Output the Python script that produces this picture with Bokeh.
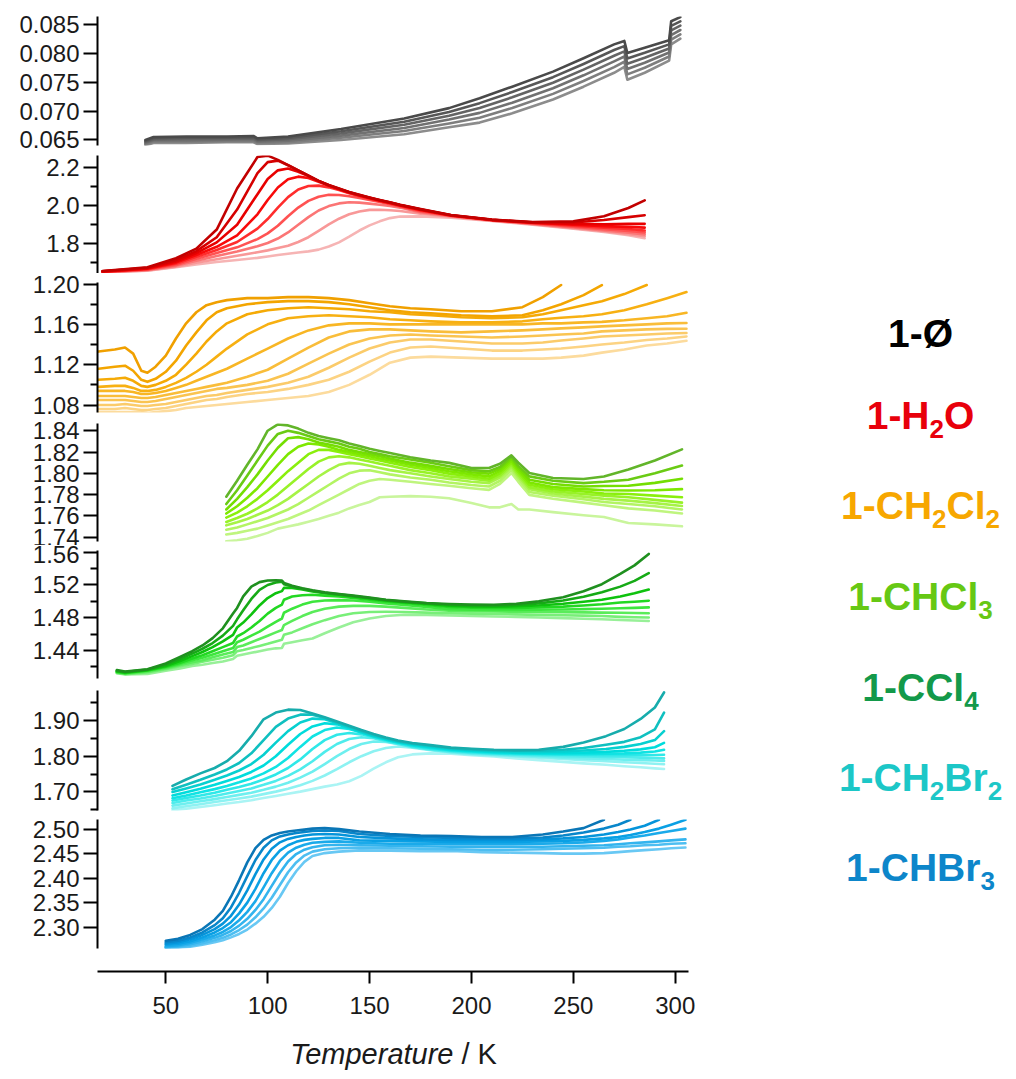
from bokeh.plotting import figure
from bokeh.layouts import column, row
from bokeh.models import Range1d, FixedTicker, PrintfTickFormatter
from bokeh.embed import file_html
from bokeh.resources import INLINE
from bokeh.core.properties import value

# ---------------- data ----------------
# 1-Ø (grey)
grey_T = [40, 44, 60, 80, 93, 95, 110, 136, 167, 189, 204, 220, 240, 255, 270, 275, 276.5, 285, 297, 298, 302.5]
grey_vals = [
    [.0650, .0655, .0656, .0656, .0657, .0653, .0656, .0669, .0687, .0705, .0722, .0742, .0768, .0791, .0815, .0821, .0800, .0809, .0822, .0855, .0862],
    [.06482, .0653, .06538, .0654, .06548, .0651, .06536, .06652, .06816, .06984, .07136, .07328, .07584, .07812, .08052, .0812, .07908, .08004, .0815, .0847, .08546],
    [.06464, .0651, .06516, .0652, .06526, .0649, .06512, .06614, .06762, .06918, .07052, .07236, .07488, .07714, .07954, .0803, .07816, .07918, .0808, .0839, .08472],
    [.06446, .0649, .06494, .0650, .06504, .0647, .06488, .06576, .06708, .06852, .06968, .07144, .07392, .07616, .07856, .0794, .07724, .07832, .0801, .0831, .08398],
    [.06428, .0647, .06472, .0648, .06482, .0645, .06464, .06538, .06654, .06786, .06884, .07052, .07296, .07518, .07758, .0785, .07632, .07746, .0794, .0823, .08324],
    [.0641, .0645, .0645, .0646, .0646, .0643, .0644, .0650, .0660, .0672, .0680, .0696, .0720, .0742, .0766, .0776, .0754, .0766, .0787, .0815, .0825],
]
grey_ticks = [0.065, 0.070, 0.075, 0.080, 0.085]

# 1-H2O (red)
red_T = [19, 41, 55, 65, 75, 85, 95, 100, 105, 110, 115, 120, 125, 130, 135, 140, 145, 150, 155, 160, 165, 175, 190, 210, 230, 250, 265, 277, 285]
red_vals = [
    [1.658, 1.678, 1.725, 1.775, 1.875, 2.09, 2.255, 2.262, 2.240, 2.212, 2.185, 2.157, 2.130, 2.108, 2.09, 2.072, 2.057, 2.043, 2.030, 2.018, 2.005, 1.982, 1.951, 1.927, 1.914, 1.918, 1.945, 1.988, 2.028],
    [1.657, 1.675, 1.715, 1.762, 1.835, 1.98, 2.17, 2.228, 2.236, 2.212, 2.185, 2.157, 2.13, 2.107, 2.089, 2.071, 2.056, 2.042, 2.029, 2.017, 2.004, 1.981, 1.950, 1.926, 1.913, 1.912, 1.925, 1.94, 1.95],
    [1.656, 1.672, 1.708, 1.752, 1.808, 1.90, 2.06, 2.14, 2.185, 2.195, 2.178, 2.155, 2.129, 2.106, 2.088, 2.070, 2.055, 2.041, 2.028, 2.016, 2.003, 1.98, 1.95, 1.926, 1.912, 1.905, 1.903, 1.905, 1.905],
    [1.655, 1.670, 1.702, 1.742, 1.785, 1.845, 1.955, 2.03, 2.095, 2.138, 2.152, 2.145, 2.125, 2.104, 2.086, 2.068, 2.053, 2.039, 2.026, 2.014, 2.001, 1.978, 1.949, 1.925, 1.911, 1.900, 1.893, 1.889, 1.885],
    [1.654, 1.667, 1.696, 1.732, 1.768, 1.81, 1.88, 1.93, 1.99, 2.045, 2.085, 2.103, 2.105, 2.096, 2.082, 2.065, 2.050, 2.036, 2.023, 2.011, 1.999, 1.975, 1.948, 1.925, 1.909, 1.895, 1.885, 1.878, 1.870],
    [1.653, 1.665, 1.690, 1.722, 1.752, 1.782, 1.825, 1.855, 1.895, 1.945, 1.99, 2.025, 2.047, 2.057, 2.056, 2.049, 2.040, 2.030, 2.019, 2.008, 1.996, 1.970, 1.947, 1.924, 1.907, 1.890, 1.877, 1.868, 1.860],
    [1.652, 1.663, 1.685, 1.712, 1.737, 1.76, 1.788, 1.805, 1.828, 1.86, 1.90, 1.94, 1.975, 1.998, 2.012, 2.018, 2.016, 2.011, 2.005, 1.998, 1.99, 1.965, 1.945, 1.923, 1.905, 1.886, 1.871, 1.858, 1.850],
    [1.651, 1.661, 1.681, 1.702, 1.72, 1.738, 1.756, 1.766, 1.778, 1.79, 1.81, 1.835, 1.868, 1.902, 1.932, 1.955, 1.970, 1.978, 1.979, 1.976, 1.972, 1.958, 1.942, 1.922, 1.903, 1.882, 1.866, 1.851, 1.840],
    [1.651, 1.660, 1.678, 1.692, 1.705, 1.716, 1.727, 1.734, 1.742, 1.748, 1.755, 1.761, 1.770, 1.786, 1.808, 1.838, 1.870, 1.897, 1.918, 1.935, 1.943, 1.944, 1.937, 1.920, 1.900, 1.879, 1.862, 1.845, 1.830],
]
red_ticks = [1.8, 2.0, 2.2]
red_minor = [1.7, 1.9, 2.1]

# 1-CH2Cl2 (orange)
orange_T = [17, 25, 30, 34, 38, 41, 45, 50, 55, 60, 65, 70, 75, 80, 90, 100, 110, 120, 130, 140, 150, 160, 170, 180, 195, 210, 225, 235, 244, 255, 264, 275, 286, 296, 305.5]
orange_vals = [
    [1.133, 1.135, 1.137, 1.131, 1.114, 1.112, 1.118, 1.129, 1.146, 1.161, 1.172, 1.179, 1.182, 1.184, 1.186, 1.186, 1.187, 1.187, 1.186, 1.184, 1.181, 1.178, 1.176, 1.175, 1.173, 1.173, 1.177, 1.187, 1.199],
    [1.116, 1.118, 1.119, 1.114, 1.105, 1.103, 1.106, 1.113, 1.124, 1.139, 1.152, 1.164, 1.172, 1.176, 1.180, 1.182, 1.183, 1.183, 1.182, 1.180, 1.177, 1.174, 1.172, 1.171, 1.169, 1.168, 1.169, 1.174, 1.180, 1.189, 1.199],
    [1.105, 1.106, 1.107, 1.104, 1.099, 1.098, 1.100, 1.104, 1.110, 1.120, 1.131, 1.143, 1.153, 1.161, 1.170, 1.174, 1.176, 1.177, 1.176, 1.175, 1.173, 1.172, 1.170, 1.169, 1.167, 1.166, 1.167, 1.170, 1.174, 1.179, 1.183, 1.190, 1.199],
    [1.098, 1.099, 1.099, 1.097, 1.094, 1.094, 1.095, 1.098, 1.102, 1.107, 1.113, 1.120, 1.128, 1.136, 1.150, 1.160, 1.166, 1.168, 1.169, 1.168, 1.167, 1.165, 1.164, 1.163, 1.162, 1.162, 1.163, 1.165, 1.1665, 1.168, 1.170, 1.174, 1.180, 1.186, 1.192],
    [1.094, 1.094, 1.094, 1.093, 1.091, 1.091, 1.092, 1.094, 1.097, 1.100, 1.104, 1.108, 1.112, 1.116, 1.126, 1.136, 1.146, 1.154, 1.159, 1.161, 1.161, 1.160, 1.160, 1.160, 1.160, 1.160, 1.160, 1.161, 1.161, 1.162, 1.1625, 1.164, 1.166, 1.168, 1.1715],
    [1.089, 1.089, 1.089, 1.088, 1.087, 1.087, 1.088, 1.090, 1.092, 1.094, 1.096, 1.098, 1.100, 1.102, 1.108, 1.115, 1.126, 1.137, 1.147, 1.153, 1.155, 1.155, 1.154, 1.153, 1.152, 1.153, 1.154, 1.155, 1.156, 1.157, 1.158, 1.159, 1.160, 1.161, 1.1614],
    [1.085, 1.085, 1.085, 1.084, 1.083, 1.083, 1.084, 1.086, 1.088, 1.090, 1.092, 1.094, 1.096, 1.097, 1.100, 1.104, 1.111, 1.121, 1.131, 1.140, 1.146, 1.149, 1.150, 1.149, 1.148, 1.147, 1.148, 1.149, 1.150, 1.151, 1.153, 1.154, 1.155, 1.1555, 1.1557],
    [1.080, 1.080, 1.081, 1.080, 1.079, 1.079, 1.080, 1.081, 1.083, 1.085, 1.087, 1.089, 1.090, 1.092, 1.095, 1.098, 1.102, 1.108, 1.117, 1.127, 1.136, 1.142, 1.145, 1.145, 1.143, 1.141, 1.141, 1.142, 1.144, 1.146, 1.148, 1.149, 1.150, 1.151, 1.1514],
    [1.076, 1.076, 1.077, 1.076, 1.075, 1.075, 1.076, 1.077, 1.079, 1.081, 1.083, 1.085, 1.086, 1.088, 1.091, 1.093, 1.096, 1.100, 1.105, 1.113, 1.123, 1.132, 1.137, 1.138, 1.136, 1.134, 1.134, 1.135, 1.136, 1.138, 1.140, 1.142, 1.1445, 1.146, 1.148],
    [1.073, 1.073, 1.073, 1.073, 1.073, 1.072, 1.073, 1.074, 1.075, 1.077, 1.078, 1.079, 1.080, 1.081, 1.083, 1.085, 1.087, 1.089, 1.093, 1.100, 1.110, 1.122, 1.127, 1.128, 1.127, 1.126, 1.126, 1.126, 1.127, 1.129, 1.132, 1.135, 1.139, 1.141, 1.1437],
]
orange_ticks = [1.08, 1.12, 1.16, 1.20]
orange_minor = [1.10, 1.14, 1.18]

# 1-CHCl3 (light green)
lime_T = [79.7, 85, 90, 95, 100, 105, 110, 115, 120, 125, 130, 135, 140, 145, 150, 155, 160, 170, 180, 189, 200, 208.6, 214, 219.6, 223, 228.4, 240, 255, 265, 277, 290, 303.3]
lime_vals = [
    [1.778, 1.793, 1.808, 1.8225, 1.840, 1.846, 1.845, 1.842, 1.838, 1.835, 1.833, 1.831, 1.828, 1.8257, 1.823, 1.821, 1.819, 1.815, 1.812, 1.8098, 1.805, 1.805, 1.809, 1.8168, 1.810, 1.8003, 1.7956, 1.7946, 1.797, 1.8035, 1.812, 1.8225],
    [1.7711, 1.784, 1.798, 1.812, 1.826, 1.837, 1.840, 1.838, 1.835, 1.832, 1.830, 1.828, 1.825, 1.823, 1.820, 1.818, 1.816, 1.813, 1.810, 1.8067, 1.803, 1.8019, 1.806, 1.8156, 1.807, 1.7971, 1.793, 1.7908, 1.792, 1.794, 1.800, 1.8073],
    [1.766, 1.776, 1.787, 1.799, 1.812, 1.824, 1.833, 1.834, 1.832, 1.829, 1.827, 1.825, 1.822, 1.820, 1.818, 1.816, 1.814, 1.810, 1.807, 1.8041, 1.801, 1.7997, 1.804, 1.8137, 1.805, 1.794, 1.790, 1.7876, 1.788, 1.7883, 1.791, 1.7949],
    [1.7622, 1.769, 1.777, 1.786, 1.797, 1.808, 1.818, 1.825, 1.828, 1.827, 1.825, 1.822, 1.820, 1.818, 1.816, 1.814, 1.812, 1.808, 1.805, 1.8019, 1.799, 1.7971, 1.802, 1.8117, 1.803, 1.7914, 1.787, 1.7851, 1.784, 1.7838, 1.784, 1.7851],
    [1.7584, 1.763, 1.769, 1.776, 1.784, 1.793, 1.802, 1.810, 1.818, 1.822, 1.822, 1.820, 1.818, 1.816, 1.814, 1.812, 1.810, 1.806, 1.803, 1.7997, 1.797, 1.7949, 1.800, 1.8098, 1.801, 1.7892, 1.785, 1.7829, 1.781, 1.7806, 1.779, 1.7775],
    [1.7543, 1.758, 1.762, 1.767, 1.773, 1.780, 1.788, 1.796, 1.804, 1.811, 1.815, 1.816, 1.815, 1.813, 1.811, 1.809, 1.807, 1.803, 1.800, 1.7971, 1.795, 1.793, 1.798, 1.8079, 1.799, 1.787, 1.783, 1.7806, 1.779, 1.7775, 1.775, 1.7724],
    [1.7511, 1.754, 1.757, 1.761, 1.765, 1.770, 1.776, 1.783, 1.790, 1.797, 1.803, 1.808, 1.8098, 1.809, 1.807, 1.805, 1.803, 1.800, 1.797, 1.7946, 1.792, 1.7908, 1.796, 1.806, 1.797, 1.7851, 1.781, 1.7781, 1.776, 1.7743, 1.772, 1.7692],
    [1.747, 1.749, 1.752, 1.755, 1.758, 1.762, 1.766, 1.771, 1.777, 1.783, 1.789, 1.795, 1.800, 1.8025, 1.8029, 1.801, 1.799, 1.796, 1.794, 1.7914, 1.789, 1.7876, 1.793, 1.8035, 1.795, 1.7825, 1.779, 1.7756, 1.773, 1.7711, 1.769, 1.766],
    [1.7425, 1.744, 1.746, 1.748, 1.751, 1.754, 1.757, 1.761, 1.765, 1.770, 1.775, 1.780, 1.785, 1.790, 1.793, 1.7946, 1.794, 1.792, 1.790, 1.7883, 1.786, 1.7844, 1.790, 1.8003, 1.792, 1.7797, 1.776, 1.7724, 1.770, 1.767, 1.765, 1.7622],
    [1.7362, 1.737, 1.7385, 1.741, 1.744, 1.748, 1.750, 1.752, 1.7545, 1.757, 1.760, 1.763, 1.767, 1.7702, 1.773, 1.7775, 1.778, 1.7785, 1.778, 1.7765, 1.772, 1.768, 1.768, 1.7711, 1.766, 1.766, 1.7635, 1.7606, 1.759, 1.7533, 1.752, 1.7502],
]
lime_ticks = [1.74, 1.76, 1.78, 1.80, 1.82, 1.84]

# 1-CCl4 (green)
green_T = [26, 30, 41, 50, 57, 63, 68, 73, 78, 83, 85, 88, 92, 96, 100, 104, 107, 108, 112, 117, 122, 128, 135, 142, 150, 158, 167, 178, 189, 200, 211, 222, 233, 245, 255, 264, 273, 280, 287]
green_vals = [
    [1.416, 1.414, 1.417, 1.424, 1.432, 1.439, 1.446, 1.455, 1.467, 1.485, 1.492, 1.506, 1.518, 1.5235, 1.5255, 1.5258, 1.5255, 1.5225, 1.519, 1.516, 1.5135, 1.511, 1.509, 1.507, 1.5045, 1.502, 1.500, 1.498, 1.4967, 1.496, 1.4959, 1.497, 1.500, 1.505, 1.5124, 1.521, 1.5335, 1.544, 1.558],
    [1.415, 1.4135, 1.4165, 1.4225, 1.4295, 1.436, 1.442, 1.449, 1.458, 1.470, 1.478, 1.489, 1.503, 1.514, 1.520, 1.523, 1.524, 1.521, 1.518, 1.5155, 1.513, 1.5105, 1.5085, 1.5065, 1.504, 1.5015, 1.4995, 1.4975, 1.4959, 1.495, 1.4948, 1.4955, 1.4975, 1.501, 1.5055, 1.511, 1.518, 1.525, 1.5344],
    [1.4145, 1.413, 1.416, 1.421, 1.427, 1.433, 1.438, 1.444, 1.451, 1.459, 1.468, 1.474, 1.484, 1.495, 1.504, 1.510, 1.5125, 1.5165, 1.5165, 1.5145, 1.512, 1.510, 1.508, 1.506, 1.5035, 1.501, 1.499, 1.497, 1.4946, 1.4938, 1.4935, 1.494, 1.495, 1.497, 1.4995, 1.502, 1.506, 1.510, 1.5145],
    [1.414, 1.4125, 1.4155, 1.420, 1.425, 1.430, 1.434, 1.439, 1.444, 1.449, 1.457, 1.461, 1.468, 1.476, 1.485, 1.492, 1.496, 1.502, 1.506, 1.5075, 1.508, 1.507, 1.506, 1.504, 1.502, 1.500, 1.498, 1.4955, 1.493, 1.4922, 1.492, 1.492, 1.4925, 1.4935, 1.495, 1.4965, 1.4985, 1.4995, 1.5008],
    [1.4135, 1.412, 1.415, 1.419, 1.4235, 1.428, 1.431, 1.435, 1.439, 1.443, 1.450, 1.453, 1.458, 1.463, 1.469, 1.475, 1.479, 1.486, 1.491, 1.496, 1.4995, 1.501, 1.5015, 1.501, 1.4995, 1.4975, 1.4955, 1.493, 1.4905, 1.4898, 1.4895, 1.4895, 1.4898, 1.490, 1.4905, 1.491, 1.4915, 1.492, 1.4926],
    [1.413, 1.4115, 1.414, 1.418, 1.422, 1.4255, 1.428, 1.4315, 1.435, 1.438, 1.444, 1.446, 1.450, 1.454, 1.458, 1.462, 1.465, 1.471, 1.476, 1.482, 1.487, 1.491, 1.4935, 1.4945, 1.4945, 1.4935, 1.492, 1.490, 1.4884, 1.4878, 1.4875, 1.4872, 1.487, 1.4868, 1.4865, 1.4862, 1.486, 1.4858, 1.4855],
    [1.4125, 1.411, 1.413, 1.417, 1.4205, 1.4235, 1.426, 1.4285, 1.431, 1.434, 1.439, 1.4405, 1.443, 1.4455, 1.448, 1.451, 1.453, 1.459, 1.462, 1.467, 1.472, 1.477, 1.482, 1.4855, 1.487, 1.4872, 1.487, 1.4862, 1.4855, 1.485, 1.4845, 1.484, 1.4835, 1.483, 1.4825, 1.482, 1.481, 1.4805, 1.4802],
    [1.412, 1.4105, 1.4111, 1.415, 1.418, 1.421, 1.4225, 1.4245, 1.4265, 1.4295, 1.4335, 1.435, 1.437, 1.439, 1.441, 1.4425, 1.443, 1.448, 1.450, 1.4525, 1.4545, 1.461, 1.468, 1.4745, 1.479, 1.482, 1.4835, 1.4835, 1.4826, 1.482, 1.4814, 1.481, 1.4802, 1.4795, 1.4787, 1.478, 1.4772, 1.4765, 1.476],
]
green_ticks = [1.44, 1.48, 1.52, 1.56]
green_minor = [1.42, 1.46, 1.50, 1.54]

# 1-CH2Br2 (cyan)
cyan_T = [53.3, 60, 67, 74, 80, 86, 92, 98, 104, 110, 116, 122, 128, 134, 140, 146, 152, 158, 164, 171, 180, 190, 200, 211, 222, 233, 245, 255, 266, 275, 283, 290, 294.5]
cyan_vals = [
    [1.717, 1.735, 1.752, 1.767, 1.786, 1.815, 1.856, 1.903, 1.922, 1.930, 1.929, 1.919, 1.909, 1.897, 1.885, 1.873, 1.862, 1.852, 1.844, 1.837, 1.831, 1.824, 1.821, 1.818, 1.817, 1.818, 1.826, 1.838, 1.856, 1.876, 1.904, 1.936, 1.978],
    [1.7075, 1.72, 1.734, 1.749, 1.763, 1.781, 1.808, 1.845, 1.882, 1.905, 1.916, 1.916, 1.907, 1.895, 1.883, 1.871, 1.860, 1.850, 1.842, 1.835, 1.829, 1.822, 1.819, 1.816, 1.815, 1.815, 1.818, 1.823, 1.832, 1.840, 1.853, 1.875, 1.922],
    [1.700, 1.710, 1.721, 1.734, 1.746, 1.760, 1.778, 1.804, 1.838, 1.870, 1.894, 1.905, 1.903, 1.893, 1.881, 1.869, 1.858, 1.849, 1.841, 1.834, 1.827, 1.821, 1.817, 1.814, 1.812, 1.812, 1.813, 1.816, 1.820, 1.826, 1.834, 1.845, 1.870],
    [1.690, 1.699, 1.709, 1.720, 1.731, 1.742, 1.756, 1.774, 1.800, 1.832, 1.862, 1.883, 1.892, 1.889, 1.879, 1.867, 1.856, 1.847, 1.839, 1.832, 1.825, 1.819, 1.815, 1.812, 1.810, 1.809, 1.809, 1.810, 1.812, 1.815, 1.819, 1.825, 1.837],
    [1.6826, 1.690, 1.699, 1.708, 1.717, 1.727, 1.738, 1.752, 1.770, 1.795, 1.826, 1.855, 1.873, 1.880, 1.876, 1.866, 1.855, 1.846, 1.838, 1.830, 1.823, 1.817, 1.813, 1.810, 1.808, 1.807, 1.806, 1.806, 1.807, 1.808, 1.810, 1.813, 1.818],
    [1.676, 1.683, 1.690, 1.698, 1.706, 1.714, 1.723, 1.735, 1.749, 1.767, 1.791, 1.820, 1.845, 1.860, 1.865, 1.861, 1.853, 1.844, 1.836, 1.828, 1.821, 1.815, 1.811, 1.808, 1.806, 1.805, 1.804, 1.8035, 1.803, 1.803, 1.803, 1.8035, 1.804],
    [1.6694, 1.676, 1.682, 1.689, 1.696, 1.703, 1.710, 1.720, 1.731, 1.745, 1.763, 1.786, 1.812, 1.834, 1.848, 1.853, 1.850, 1.842, 1.834, 1.826, 1.819, 1.813, 1.809, 1.806, 1.804, 1.802, 1.800, 1.799, 1.798, 1.797, 1.796, 1.795, 1.794],
    [1.662, 1.668, 1.674, 1.680, 1.686, 1.692, 1.698, 1.706, 1.715, 1.726, 1.740, 1.757, 1.778, 1.800, 1.820, 1.834, 1.841, 1.840, 1.834, 1.826, 1.818, 1.811, 1.807, 1.804, 1.801, 1.799, 1.796, 1.794, 1.792, 1.790, 1.789, 1.788, 1.787],
    [1.6543, 1.660, 1.666, 1.672, 1.677, 1.682, 1.687, 1.694, 1.701, 1.709, 1.719, 1.731, 1.746, 1.764, 1.783, 1.800, 1.814, 1.823, 1.827, 1.824, 1.817, 1.810, 1.805, 1.802, 1.799, 1.796, 1.792, 1.789, 1.786, 1.783, 1.781, 1.779, 1.7774],
    [1.649, 1.653, 1.658, 1.663, 1.668, 1.672, 1.677, 1.683, 1.689, 1.695, 1.701, 1.708, 1.715, 1.721, 1.730, 1.745, 1.765, 1.783, 1.797, 1.805, 1.808, 1.807, 1.803, 1.799, 1.794, 1.789, 1.784, 1.780, 1.776, 1.772, 1.769, 1.766, 1.7642],
]
cyan_ticks = [1.70, 1.80, 1.90]
cyan_minor = [1.65, 1.75, 1.85, 1.95]

# 1-CHBr3 (blue)
blue_T = [50, 56, 62, 68, 74, 78, 82, 86, 90, 94, 98, 102, 106, 110, 114, 118, 122, 128, 135, 145, 160, 175, 190, 205, 220, 235, 245, 255, 265, 272, 278, 285, 292, 298, 305]
blue_vals = [
    [2.272, 2.276, 2.284, 2.296, 2.315, 2.333, 2.362, 2.396, 2.432, 2.461, 2.478, 2.487, 2.492, 2.495, 2.497, 2.499, 2.501, 2.502, 2.500, 2.495, 2.490, 2.487, 2.486, 2.484, 2.484, 2.489, 2.495, 2.502, 2.519],
    [2.269, 2.272, 2.279, 2.289, 2.304, 2.318, 2.340, 2.370, 2.404, 2.437, 2.462, 2.477, 2.485, 2.489, 2.492, 2.494, 2.496, 2.497, 2.496, 2.490, 2.486, 2.484, 2.482, 2.481, 2.481, 2.483, 2.487, 2.493, 2.501, 2.509, 2.519],
    [2.266, 2.269, 2.275, 2.284, 2.296, 2.307, 2.323, 2.346, 2.375, 2.408, 2.438, 2.460, 2.473, 2.480, 2.484, 2.487, 2.489, 2.490, 2.489, 2.484, 2.481, 2.479, 2.478, 2.478, 2.478, 2.479, 2.481, 2.484, 2.489, 2.494, 2.499, 2.507, 2.519],
    [2.264, 2.266, 2.271, 2.279, 2.289, 2.298, 2.310, 2.328, 2.350, 2.378, 2.410, 2.437, 2.456, 2.467, 2.474, 2.478, 2.480, 2.482, 2.482, 2.477, 2.476, 2.475, 2.474, 2.474, 2.474, 2.475, 2.476, 2.478, 2.481, 2.484, 2.488, 2.494, 2.501, 2.509, 2.519],
    [2.261, 2.263, 2.268, 2.275, 2.283, 2.290, 2.300, 2.314, 2.331, 2.353, 2.381, 2.410, 2.435, 2.452, 2.462, 2.468, 2.472, 2.474, 2.475, 2.472, 2.470, 2.470, 2.469, 2.469, 2.469, 2.470, 2.471, 2.473, 2.476, 2.479, 2.483, 2.487, 2.492, 2.496, 2.501],
    [2.259, 2.261, 2.265, 2.271, 2.278, 2.284, 2.292, 2.303, 2.317, 2.335, 2.357, 2.384, 2.411, 2.434, 2.449, 2.458, 2.463, 2.467, 2.468, 2.467, 2.466, 2.465, 2.464, 2.464, 2.464, 2.464, 2.465, 2.466, 2.467, 2.469, 2.471, 2.473, 2.475, 2.477, 2.479],
    [2.258, 2.259, 2.262, 2.267, 2.273, 2.278, 2.285, 2.294, 2.305, 2.320, 2.338, 2.360, 2.386, 2.412, 2.432, 2.446, 2.454, 2.459, 2.461, 2.462, 2.461, 2.460, 2.459, 2.458, 2.458, 2.459, 2.460, 2.461, 2.462, 2.464, 2.465, 2.467, 2.468, 2.470, 2.471],
    [2.257, 2.258, 2.260, 2.264, 2.269, 2.273, 2.279, 2.286, 2.295, 2.307, 2.321, 2.339, 2.362, 2.390, 2.414, 2.433, 2.445, 2.451, 2.454, 2.4566, 2.456, 2.455, 2.4552, 2.453, 2.452, 2.451, 2.450, 2.450, 2.451, 2.453, 2.455, 2.457, 2.459, 2.461, 2.4624],
]
blue_ticks = [2.30, 2.35, 2.40, 2.45, 2.50]

x_ticks = [50, 100, 150, 200, 250, 300]

# ---------------- styles ----------------
FONT = "Liberation Sans"
grey_colors = ["#4a4a4a", "#575757", "#646464", "#717171", "#7e7e7e", "#8c8c8c"]
red_colors = ["#c20000", "#d60000", "#e80000", "#f80a0a", "#ff2d2d", "#ff5252", "#fb7575", "#f89898", "#f6b4b4"]
orange_colors = ["#f0a000", "#f3a500", "#f5aa06", "#f7b012", "#f8b624", "#f9bd3a", "#fac451", "#fbcb6a", "#fcd383", "#fcdb9d"]
lime_colors = ["#62b52a", "#6acb14", "#74de02", "#7ee800", "#8aef0c", "#98f228", "#a6f346", "#b3f463", "#bff57e", "#c9f59c"]
green_colors = ["#1f901f", "#16aa16", "#0ec20e", "#22d822", "#3de63d", "#5aec5a", "#78ef78", "#98f098"]
cyan_colors = ["#17acac", "#0fc0c0", "#07d0d0", "#00dcdc", "#10e3e3", "#2fe8e8", "#4eecec", "#6eefef", "#8df2f2", "#aaf4f4"]
blue_colors = ["#0a76b6", "#0886ca", "#0594da", "#0aa0e4", "#1aaaea", "#33b4ee", "#4dbef1", "#68c8f4"]

x_range = Range1d(16.5, 306.5)
LEFT, RIGHT, FW = 97, 12, 591
COL_W = LEFT + FW + RIGHT


def style_axis(ax):
    ax.axis_line_width = 2
    ax.axis_line_color = "black"
    ax.major_tick_line_width = 2
    ax.minor_tick_line_width = 2
    ax.major_tick_line_color = "black"
    ax.minor_tick_line_color = "black"
    ax.major_tick_in = 0
    ax.minor_tick_in = 0
    ax.major_label_text_font = FONT
    ax.major_label_text_font_size = "24px"
    ax.major_label_text_color = "#1a1a1a"


def panel(T, vals, colors, yr, majors, minors, fmt, fh, top, bottom):
    p = figure(width=COL_W, height=top + fh + bottom, x_range=x_range, y_range=Range1d(*yr),
               x_axis_location=None, y_axis_location="left", title=None,
               output_backend="svg", toolbar_location=None,
               min_border_left=LEFT, min_border_right=RIGHT,
               min_border_top=top, min_border_bottom=bottom,
               outline_line_color=None)
    p.grid.visible = False
    ax = p.yaxis[0]
    ax.ticker = FixedTicker(ticks=majors, minor_ticks=minors)
    ax.formatter = PrintfTickFormatter(format=fmt)
    style_axis(ax)
    ax.major_tick_out = 14
    ax.minor_tick_out = 7
    ax.major_label_standoff = 4
    for v, c in reversed(list(zip(vals, colors))):
        p.line(T[:len(v)], v, line_color=c, line_width=2.6, line_join="round", line_cap="round")
    return p


p1 = panel(grey_T, grey_vals, grey_colors, (0.06405, 0.08631), grey_ticks, [], "%.3f", 129, 16, 8)
p2 = panel(red_T, red_vals, red_colors, (1.645, 2.2628), red_ticks, red_minor, "%.1f", 118, 2, 0)
p3 = panel(orange_T, orange_vals, orange_colors, (1.0726, 1.2015), orange_ticks, orange_minor, "%.2f", 130, 9, 6)
p4 = panel(lime_T, lime_vals, lime_colors, (1.7359, 1.8468), lime_ticks, [], "%.2f", 118, 5, 4)
p5 = panel(green_T, green_vals, green_colors, (1.4056, 1.5622), green_ticks, green_minor, "%.2f", 128, 5, 12)
p6 = panel(cyan_T, cyan_vals, cyan_colors, (1.6483, 1.9835), cyan_ticks, cyan_minor, "%.2f", 120, 0, 5)
p7 = panel(blue_T, blue_vals, blue_colors, (2.2563, 2.5196), blue_ticks, [], "%.2f", 129, 4, 3)

# bottom temperature axis
xf = figure(width=COL_W, height=85, x_range=x_range, y_range=Range1d(0, 1),
            x_axis_location="below", y_axis_location=None, title=None,
            output_backend="svg", toolbar_location=None,
            min_border_left=LEFT, min_border_right=RIGHT, min_border_top=0, min_border_bottom=65,
            outline_line_color=None)
xf.grid.visible = False
xa = xf.xaxis[0]
xa.ticker = FixedTicker(ticks=x_ticks, minor_ticks=[])
style_axis(xa)
xa.major_tick_out = 12
xa.major_label_standoff = 13

# axis title (italic quantity, upright unit)
tf = figure(width=COL_W, height=35, x_range=Range1d(97, 688), y_range=Range1d(0, 35),
            x_axis_location=None, y_axis_location=None, title=None,
            output_backend="svg", toolbar_location=None,
            min_border_left=LEFT, min_border_right=RIGHT, min_border_top=0, min_border_bottom=0,
            outline_line_color=None)
tf.grid.visible = False
tf.text(x=[453], y=[18], text=["Temperature"], text_font=value(FONT), text_font_style="italic",
        text_font_size="29px", text_color="#1a1a1a", text_align="right", text_baseline="middle")
tf.text(x=[461], y=[18], text=["/ K"], text_font=value(FONT), text_font_style="normal",
        text_font_size="29px", text_color="#1a1a1a", text_align="left", text_baseline="middle")

col = column(p1, p2, p3, p4, p5, p6, p7, xf, tf)
TOTAL_H = sum(f.height for f in [p1, p2, p3, p4, p5, p6, p7, xf, tf])

# compound labels on the right
label_parts = [
    [("1-Ø", False)],
    [("1-H", False), ("2", True), ("O", False)],
    [("1-CH", False), ("2", True), ("Cl", False), ("2", True)],
    [("1-CHCl", False), ("3", True)],
    [("1-CCl", False), ("4", True)],
    [("1-CH", False), ("2", True), ("Br", False), ("2", True)],
    [("1-CHBr", False), ("3", True)],
]
label_colors = ["#000000", "#e8000b", "#f7a700", "#66c814", "#13994a", "#1cc7c7", "#0d86ca"]
label_centers = [333, 415, 505, 596, 687, 777, 867]
ADV = {'1': 556, '-': 333, 'C': 722, 'H': 722, 'O': 778, 'l': 278, 'B': 722, 'r': 389,
       'Ø': 778, '2': 556, '3': 556, '4': 556}
MAIN_FS, SUB_FS, SUB_DROP, CX = 39, 26, 13, 920
LAB_W = 308

lf = figure(width=LAB_W, height=TOTAL_H, x_range=Range1d(COL_W, COL_W + LAB_W), y_range=Range1d(TOTAL_H, 0),
            x_axis_location=None, y_axis_location=None, title=None,
            output_backend="svg", toolbar_location=None, min_border=0, outline_line_color=None)
lf.grid.visible = False
for parts, colr, cy in zip(label_parts, label_colors, label_centers):
    widths = [sum(ADV[ch] for ch in t) / 1000 * (SUB_FS if s else MAIN_FS) for t, s in parts]
    x0 = CX - sum(widths) / 2
    for (t, s), w in zip(parts, widths):
        lf.text(x=[x0], y=[cy + (SUB_DROP if s else 0)], text=[t], text_font=value(FONT),
                text_font_style="bold", text_font_size=f"{SUB_FS if s else MAIN_FS}px",
                text_color=colr, text_align="left", text_baseline="middle")
        x0 += w

layout = row(col, lf)
open("out.html", "w").write(file_html(layout, INLINE))
